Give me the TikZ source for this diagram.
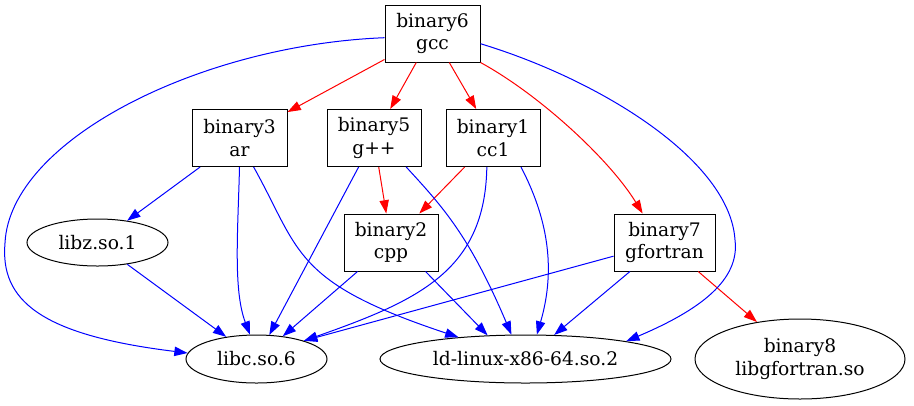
\documentclass[tikz,border=0pt]{standalone}
\usepackage{fontspec}
\setmainfont{DejaVu Serif}
\usetikzlibrary{shapes.geometric,arrows.meta}
\definecolor{gvred}{HTML}{FF0000}
\definecolor{gvblue}{HTML}{0000FF}
\tikzset{
  box/.style={draw, rectangle, inner sep=0pt, align=center, line width=0.75pt,
    minimum height=42.75pt, font=\fontsize{14}{17}\selectfont},
  ell/.style={draw, ellipse, inner sep=0pt, align=center, line width=0.75pt,
    font=\fontsize{14}{17}\selectfont},
  edge/.style={line width=0.75pt, -{Triangle[length=10pt,width=7pt]}},
  redge/.style={edge, gvred},
  bedge/.style={edge, gvblue}
}
\begin{document}
\begin{tikzpicture}[x=0.75pt,y=-0.75pt]
\useasboundingbox (0,0) rectangle (914,405);
% nodes
\node[box, minimum width=71.25pt] (gcc) at (432.5,33.5) {binary6\\gcc};
\node[box, minimum width=71.25pt] (ar) at (239.5,138) {binary3\\ar};
\node[box, minimum width=70.5pt] (gpp) at (374,138) {binary5\\g++};
\node[box, minimum width=70.5pt] (cc1) at (493,138) {binary1\\cc1};
\node[box, minimum width=70.5pt] (cpp) at (391,242.5) {binary2\\cpp};
\node[box, minimum width=75.75pt] (gfo) at (664.5,242.5) {binary7\\gfortran};
\node[ell, minimum width=105.75pt, minimum height=35.25pt] (libz) at (97.5,242.5) {libz.so.1};
\node[ell, minimum width=105.75pt, minimum height=36pt] (libc) at (256.5,359) {libc.so.6};
\node[ell, minimum width=218.25pt, minimum height=36pt] (ld) at (525.5,359) {ld-linux-x86-64.so.2};
\node[ell, minimum width=157.5pt, minimum height=60pt] (b8) at (800,359) {binary8\\libgfortran.so};
% red edges
\draw[redge] (gcc) -- (ar);
\draw[redge] (gcc) -- (gpp);
\draw[redge] (gcc) -- (cc1);
\draw[redge] (gcc.south east) .. controls (540,95) and (610,160) .. (gfo.127);
\draw[redge] (gpp) -- (cpp);
\draw[redge] (cc1) -- (cpp);
\draw[redge] (gfo) -- (b8);
% blue edges
\draw[bedge] (gcc.185) .. controls (200,45) and (10,140) .. (5,243)
  .. controls (0,300) and (40,335) .. (libc.175);
\draw[bedge] (gcc.-12) .. controls (600,80) and (730,160) .. (735,240)
  .. controls (740,280) and (700,310) .. (ld.10);
\draw[bedge] (ar) -- (libz);
\draw[bedge] (ar.south) .. controls (238,230) and (233,290) .. (libc.105);
\draw[bedge] (ar.-64) .. controls (300.5,251) and (292,282) .. (ld.162);
\draw[bedge] (gpp) -- (libc);
\draw[bedge] (gpp.-42) .. controls (443,207) and (469.5,236) .. (ld.120);
\draw[bedge] (cc1.-102) .. controls (485,270) and (420,300) .. (libc.21);
\draw[bedge] (cc1.-46) .. controls (547,217) and (556.5,267.5) .. (ld.65);
\draw[bedge] (libz) -- (libc);
\draw[bedge] (cpp) -- (libc);
\draw[bedge] (cpp.-40) -- (ld.148);
\draw[bedge] (gfo.195) -- (libc.21);
\draw[bedge] (gfo) -- (ld);
\end{tikzpicture}
\end{document}
